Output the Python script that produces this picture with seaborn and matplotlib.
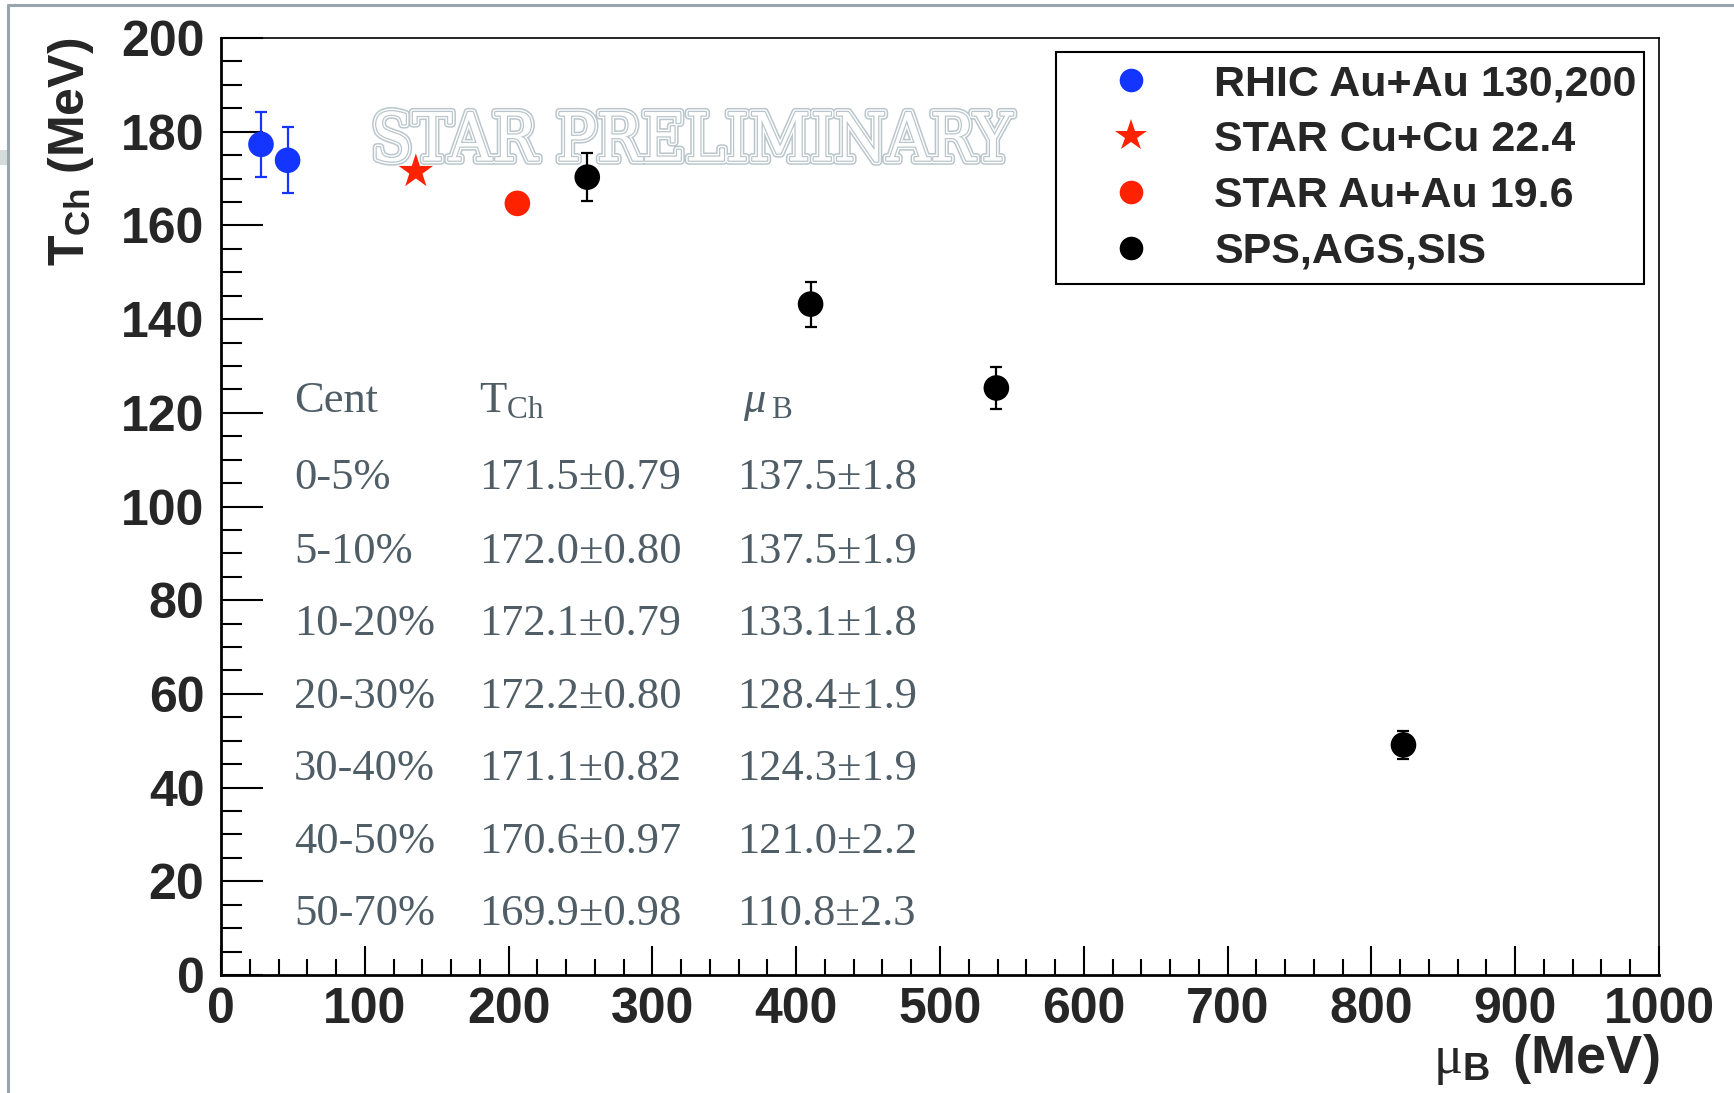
import matplotlib
matplotlib.use("Agg")
import matplotlib.pyplot as plt
import matplotlib.patheffects as pe
from matplotlib.lines import Line2D
from matplotlib.patches import Rectangle
from matplotlib.ticker import MultipleLocator
import pandas as pd
import seaborn as sns

# Chemical freeze-out points: mu_B (MeV), T_ch (MeV) and the error on T_ch
series_names = ["RHIC Au+Au 130,200", "STAR Cu+Cu 22.4", "STAR Au+Au 19.6", "SPS,AGS,SIS"]
rhic_mu = [27.8, 46.3]
rhic_t = [177.3, 173.9]
rhic_err = [7.0, 7.0]
cucu_mu = [135.5]
cucu_t = [171.5]
auau_mu = [206.1]
auau_t = [164.7]
sps_mu = [254.7, 410.0, 539.2, 822.3]
sps_t = [170.3, 143.2, 125.3, 49.1]
sps_err = [5.1, 4.8, 4.5, 3.0]

# Centrality dependence of the fitted parameters
cent_labels = ["0-5%", "5-10%", "10-20%", "20-30%", "30-40%", "40-50%", "50-70%"]
tch_values = ["171.5\u00b10.79", "172.0\u00b10.80", "172.1\u00b10.79", "172.2\u00b10.80",
              "171.1\u00b10.82", "170.6\u00b10.97", "169.9\u00b10.98"]
mub_values = ["137.5\u00b11.8", "137.5\u00b11.9", "133.1\u00b11.8", "128.4\u00b11.9",
              "124.3\u00b11.9", "121.0\u00b12.2", "110.8\u00b12.3"]

x_major = 100
x_minor = 20
y_major = 20
y_minor = 5

blue = "#1434ff"
red = "#ff2200"
black = "#000000"
table_color = "#4f5d66"
mark_color = "#bac6cb"

sns.set_style("white")
plt.rcParams["font.family"] = ["Liberation Sans", "DejaVu Sans"]
plt.rcParams["mathtext.fontset"] = "custom"
plt.rcParams["mathtext.rm"] = "Liberation Serif"
plt.rcParams["mathtext.it"] = "Liberation Serif:italic"
plt.rcParams["mathtext.bf"] = "Liberation Sans:bold"

df = pd.DataFrame({
    "mu": rhic_mu + cucu_mu + auau_mu + sps_mu,
    "T": rhic_t + cucu_t + auau_t + sps_t,
    "series": [series_names[0]] * len(rhic_mu) + [series_names[1]] * len(cucu_mu)
              + [series_names[2]] * len(auau_mu) + [series_names[3]] * len(sps_mu),
})
palette = dict(zip(series_names, [blue, red, red, black]))
markers = dict(zip(series_names, ["o", "*", "o", "o"]))
sizes = dict(zip(series_names, [340, 680, 340, 340]))

fig = plt.figure(figsize=(17.34, 10.93), dpi=100)
ax = fig.add_axes([0.12745, 0.10796, 0.82930, 0.85727])

# error bars below the markers
ax.errorbar(rhic_mu, rhic_t, yerr=rhic_err, fmt="none", ecolor=blue,
            elinewidth=1.6, capsize=4, capthick=1.6, zorder=2)
ax.errorbar(sps_mu, sps_t, yerr=sps_err, fmt="none", ecolor=black,
            elinewidth=1.6, capsize=4, capthick=1.6, zorder=2)

for name in series_names:
    sub = df[df["series"] == name]
    sns.scatterplot(data=sub, x="mu", y="T", color=palette[name], marker=markers[name],
                    s=sizes[name], edgecolor="none", linewidth=0, legend=False,
                    ax=ax, zorder=3)

ax.set_xlim(0, 1000)
ax.set_ylim(0, 200)
ax.xaxis.set_major_locator(MultipleLocator(x_major))
ax.xaxis.set_minor_locator(MultipleLocator(x_minor))
ax.yaxis.set_major_locator(MultipleLocator(y_major))
ax.yaxis.set_minor_locator(MultipleLocator(y_minor))

ax.tick_params(axis="both", which="both", direction="in", top=False, right=False,
               bottom=True, left=True, color="black", width=1.5)
ax.tick_params(axis="y", which="major", length=30, pad=12, labelsize=36)
ax.tick_params(axis="y", which="minor", length=15)
ax.tick_params(axis="x", which="major", length=21, pad=9, labelsize=36)
ax.tick_params(axis="x", which="minor", length=11.5)
for lab in ax.get_xticklabels() + ax.get_yticklabels():
    lab.set_fontweight("bold")

for side in ["left", "bottom"]:
    ax.spines[side].set_linewidth(2.0)
for side in ["top", "right"]:
    ax.spines[side].set_linewidth(1.2)
for side in ax.spines:
    ax.spines[side].set_color("black")
    ax.spines[side].set_visible(True)

ax.set_xlabel(r"$\mathrm{\mu}_{\mathbf{B}}\;\;$(MeV)", fontsize=39, fontweight="bold",
              loc="right", labelpad=-1)
ax.set_ylabel(r"$\mathbf{T}_{\mathbf{Ch}}$ (MeV)", fontsize=36, fontweight="bold",
              loc="top")
ax.yaxis.set_label_coords(-0.087, 1.0)

# legend
handles = [
    Line2D([], [], linestyle="none", marker="o", markersize=17, color=blue, markeredgewidth=0),
    Line2D([], [], linestyle="none", marker="*", markersize=24, color=red, markeredgewidth=0),
    Line2D([], [], linestyle="none", marker="o", markersize=17, color=red, markeredgewidth=0),
    Line2D([], [], linestyle="none", marker="o", markersize=17, color=black, markeredgewidth=0),
]
leg = ax.legend(handles, series_names, loc="upper left",
                bbox_to_anchor=(0.5807, 0.739, 0.4089, 0.246), mode="expand",
                borderaxespad=0, borderpad=0.28, labelspacing=0.37,
                handlelength=2.9, handletextpad=0.5, fancybox=False,
                framealpha=1, edgecolor="black",
                prop={"family": "Liberation Sans", "weight": "bold", "size": 31})
leg.get_frame().set_linewidth(1.5)

# watermark
ax.text(0.3275, 0.889, "STAR PRELIMINARY", transform=ax.transAxes,
        ha="center", va="center", fontsize=48, family="DejaVu Serif",
        fontstretch="condensed", color="white", zorder=1,
        path_effects=[pe.Stroke(linewidth=6.0, foreground=mark_color),
                      pe.Stroke(linewidth=3.8, foreground="white"),
                      pe.Stroke(linewidth=1.8, foreground=mark_color),
                      pe.Normal()])

# centrality table
col_x = [0.0508, 0.1794, 0.3588]
row_y = [0.601, 0.5182, 0.4402, 0.3632, 0.2853, 0.2083, 0.1303, 0.0534]
tkw = dict(transform=ax.transAxes, ha="left", va="baseline", fontsize=32,
           family="Liberation Serif", color=table_color)
ax.text(col_x[0], row_y[0], "Cent", **tkw)
ax.text(col_x[1], row_y[0], r"T$_{\mathrm{Ch}}$", **tkw)
ax.text(col_x[2] + 0.004, row_y[0], r"$\mathit{\mu}_{\;\mathrm{B}}$", **tkw)
for i, (c, t, m) in enumerate(zip(cent_labels, tch_values, mub_values)):
    ax.text(col_x[0], row_y[i + 1], c, **tkw)
    ax.text(col_x[1], row_y[i + 1], t, **tkw)
    ax.text(col_x[2], row_y[i + 1], m, **tkw)

# page frame lines
frame_grey = "#97a6ae"
fig.add_artist(Line2D([8 / 1734, 1.0], [1 - 5 / 1093, 1 - 5 / 1093],
                      transform=fig.transFigure, color=frame_grey, linewidth=2.2))
fig.add_artist(Line2D([8 / 1734, 8 / 1734], [0.0, 1 - 5 / 1093],
                      transform=fig.transFigure, color=frame_grey, linewidth=2.2))
fig.add_artist(Rectangle((0, 1 - 165 / 1093), 7 / 1734, 15 / 1093,
                         transform=fig.transFigure, color="#d5dbdb", linewidth=0))

fig.savefig("out.png", dpi=100)
